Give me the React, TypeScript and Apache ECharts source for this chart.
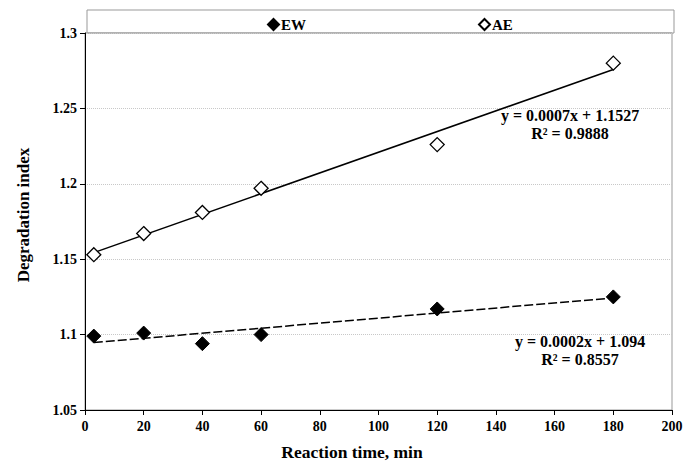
import React, { useEffect, useRef } from "react";
import * as echarts from "echarts";

const times = [3, 20, 40, 60, 120, 180];
const ewValues = [1.099, 1.101, 1.094, 1.1, 1.117, 1.125];
const aeValues = [1.153, 1.167, 1.181, 1.197, 1.226, 1.28];
const ewEquation = ["y = 0.0002x + 1.094", "R² = 0.8557"];
const aeEquation = ["y = 0.0007x + 1.1527", "R² = 0.9888"];

function fit(xs: number[], ys: number[]) {
  const n = xs.length;
  const mx = xs.reduce((a, b) => a + b, 0) / n;
  const my = ys.reduce((a, b) => a + b, 0) / n;
  let sxy = 0, sxx = 0;
  for (let i = 0; i < n; i++) {
    sxy += (xs[i] - mx) * (ys[i] - my);
    sxx += (xs[i] - mx) ** 2;
  }
  const b = sxy / sxx;
  const a = my - b * mx;
  const x0 = xs[0], x1 = xs[n - 1];
  return [[x0, a + b * x0], [x1, a + b * x1]];
}

const FONT = "'Liberation Serif', 'Times New Roman', serif";

export default function App() {
  const ref = useRef<HTMLDivElement>(null);
  useEffect(() => {
    const chart = echarts.init(ref.current!, null, { renderer: "svg" });
    const ewPts = times.map((t, i) => [t, ewValues[i]]);
    const aePts = times.map((t, i) => [t, aeValues[i]]);
    const eqText = (lines: string[], x: number, y: number) =>
      lines.map((t, i) => ({
        type: "text",
        x,
        y: y + i * 18,
        style: {
          text: t, fill: "#000", font: `bold 16px ${FONT}`,
          textAlign: "center", textVerticalAlign: "middle",
        },
        z: 10,
      }));
    chart.setOption({
      animation: false,
      textStyle: { fontFamily: FONT },
      grid: {
        left: 85, right: 22, top: 33, bottom: 60,
        show: true, borderColor: "#999", borderWidth: 1,
      },
      legend: {
        data: ["EW", "AE"],
        left: 262, top: 12,
        itemGap: 172, itemWidth: 11, itemHeight: 11,
        icon: "diamond",
        textStyle: { fontFamily: FONT, fontWeight: "bold", fontSize: 15, color: "#000", padding: [0, 0, 0, -3] },
      },
      graphic: [
        {
          type: "rect",
          shape: { x: 87, y: 10, width: 587, height: 23 },
          style: { fill: "none", stroke: "#999", lineWidth: 1 },
          z: -1,
        },
        ...eqText(aeEquation, 570, 115),
        ...eqText(ewEquation, 580, 341),
        {
          type: "text",
          x: 352, y: 452,
          style: {
            text: "Reaction time, min", fill: "#000", font: `bold 17.5px ${FONT}`,
            textAlign: "center", textVerticalAlign: "middle",
          },
        },
        {
          type: "text",
          x: 23, y: 215, rotation: Math.PI / 2,
          style: {
            text: "Degradation index", fill: "#000", font: `bold 17px ${FONT}`,
            textAlign: "center", textVerticalAlign: "middle",
          },
        },
      ],
      xAxis: {
        type: "value", min: 0, max: 200, interval: 20,
        axisLine: { show: true, lineStyle: { color: "#000", width: 1 } },
        axisTick: { show: true, length: 5, lineStyle: { color: "#000" } },
        axisLabel: { fontFamily: FONT, fontWeight: "bold", fontSize: 14, color: "#000", margin: 9 },
        splitLine: { show: false },
      },
      yAxis: {
        type: "value", min: 1.05, max: 1.3, interval: 0.05,
        axisLine: { show: true, lineStyle: { color: "#000", width: 1 } },
        axisTick: { show: true, length: 5, lineStyle: { color: "#000" } },
        axisLabel: {
          fontFamily: FONT, fontWeight: "bold", fontSize: 14, color: "#000", margin: 8,
          formatter: (v: number) => String(parseFloat(v.toFixed(2))),
        },
        splitLine: { show: true, lineStyle: { color: "#c8c8c8", type: "dotted" } },
      },
      series: [
        {
          name: "EW trend", type: "line", data: fit(times, ewValues), symbol: "none",
          lineStyle: { color: "#000", width: 1.5, type: [9, 3] }, silent: true, z: 1,
        },
        {
          name: "AE trend", type: "line", data: fit(times, aeValues), symbol: "none",
          lineStyle: { color: "#000", width: 1.5 }, silent: true, z: 1,
        },
        {
          name: "EW", type: "scatter", data: ewPts, symbol: "diamond", symbolSize: 14,
          itemStyle: { color: "#000", borderColor: "#000", borderWidth: 1, opacity: 1 }, z: 3,
        },
        {
          name: "AE", type: "scatter", data: aePts, symbol: "diamond", symbolSize: 14,
          itemStyle: { color: "#fff", borderColor: "#000", borderWidth: 1.3, opacity: 1 }, z: 3,
        },
      ],
    });
    return () => chart.dispose();
  }, []);
  return (
    <div
      ref={ref}
      style={{ position: "absolute", left: 0, top: 0, width: 694, height: 470, background: "#fff" }}
    />
  );
}
